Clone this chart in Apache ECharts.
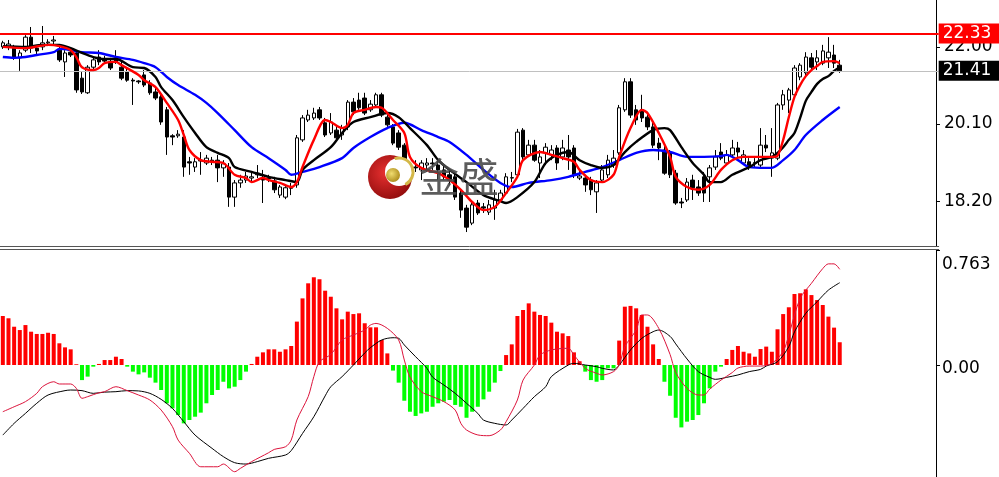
<!DOCTYPE html>
<html><head><meta charset="utf-8">
<script src="https://cdn.jsdelivr.net/npm/echarts@6.0.0/dist/echarts.min.js"></script>
<style>html,body{margin:0;padding:0;background:#fff}#c{width:999px;height:477px}</style>
</head><body><div id="c"></div>
<script>
// ---- price candles (one per bar) ----
const opens = [
22.00,22.00,21.97,21.73,21.92,22.24,21.97,22.00,22.10,22.145,
21.92,21.63,21.87,21.85,21.23,20.87,21.50,21.75,21.68,21.63,
21.68,21.50,21.38,21.18,21.16,21.31,21.11,20.89,20.77,20.45,
19.81,19.81,19.78,19.17,19.04,19.19,19.14,19.21,19.21,19.02,
19.04,18.30,18.65,18.72,18.77,18.85,18.77,18.77,18.70,18.35,
18.30,18.53,18.60,19.71,20.20,20.25,20.45,20.13,19.88,19.95,
19.83,20.03,20.64,20.69,20.74,20.45,20.57,20.82,20.27,20.03,
19.88,19.58,19.07,19.04,18.97,19.09,19.14,19.09,18.97,18.85,
18.80,18.40,18.03,17.66,18.155,18.06,17.93,18.03,18.23,18.40,
18.77,18.85,19.95,19.34,19.58,19.14,19.39,19.34,19.51,19.29,
19.46,19.51,18.77,18.77,18.72,18.43,18.72,18.85,19.09,19.39,
20.45,21.14,20.45,20.45,20.27,20.03,19.63,19.46,19.39,18.89,
18.18,18.23,18.72,18.55,18.80,18.80,19.04,19.41,19.14,19.34,
19.51,19.14,19.17,19.14,19.09,19.58,19.26,19.26,20.57,20.69,
20.82,21.26,21.36,21.73,21.63,21.60,21.73,21.80,21.55];
const closes = [
22.10,22.07,21.75,21.85,22.24,21.97,21.90,22.10,22.12,22.17,
21.68,21.85,21.80,20.94,20.89,21.50,21.68,21.63,21.65,21.48,
21.63,21.23,21.18,21.16,21.14,21.06,20.87,20.74,20.15,19.78,
19.78,19.85,19.04,19.14,19.17,19.21,19.26,19.17,19.02,19.12,
18.30,18.65,18.72,18.82,18.80,18.89,18.72,18.75,18.48,18.55,
18.53,18.52,19.76,20.25,20.32,20.37,20.25,19.83,20.15,19.76,
20.00,20.64,20.40,20.50,20.37,20.59,20.82,20.32,20.08,19.63,
19.53,19.04,19.04,19.02,19.14,19.14,19.12,18.97,18.80,18.72,
18.30,17.98,17.56,18.11,17.91,18.03,18.11,18.23,18.40,18.80,
18.78,19.90,19.29,19.58,19.21,19.29,19.53,19.46,19.14,19.51,
19.29,18.85,18.82,18.60,18.48,18.65,18.97,19.21,19.26,20.50,
21.14,20.32,20.20,20.25,20.03,19.58,19.51,18.89,18.85,18.155,
18.155,18.67,18.53,18.40,18.40,19.02,19.29,19.26,19.34,19.51,
19.41,19.34,19.04,19.15,19.58,19.51,19.39,20.57,20.82,20.94,
21.48,21.55,21.75,21.50,21.73,21.90,21.87,21.60,21.41];
const lows = [
21.95,21.92,21.68,21.41,21.87,21.85,21.82,21.92,22.02,22.07,
21.63,21.26,21.75,20.87,20.84,20.84,21.43,21.55,21.58,21.43,
21.58,21.18,21.14,20.57,21.09,21.01,20.82,20.69,20.08,19.34,
19.58,19.76,18.80,18.85,18.92,18.85,19.09,19.09,18.67,18.80,
18.06,18.06,18.53,18.65,18.67,18.77,18.155,18.67,18.40,18.28,
18.25,18.35,18.53,19.66,20.15,20.20,20.20,19.78,19.83,19.71,
19.71,19.95,20.32,20.45,20.32,20.40,20.52,20.27,20.03,19.58,
19.46,18.97,18.92,18.92,18.72,18.92,18.97,18.72,18.72,18.60,
18.23,17.79,17.44,17.61,17.86,17.91,17.86,17.74,18.18,18.35,
18.67,18.80,19.21,19.29,19.17,18.77,19.09,19.21,18.97,19.21,
18.97,18.77,18.72,18.43,18.35,17.91,18.67,18.77,19.02,19.34,
20.40,20.25,20.08,20.15,19.95,19.51,19.21,18.85,18.77,18.11,
18.03,18.18,18.23,18.33,18.18,18.18,18.97,19.21,19.09,19.26,
19.21,19.09,18.97,19.02,19.04,19.41,18.80,19.21,20.45,20.37,
20.74,21.18,21.28,21.43,21.43,21.55,21.48,21.48,21.36];
const highs = [
22.15,22.17,22.05,21.92,22.29,22.49,22.02,22.515,22.19,22.27,
22.05,21.92,21.92,21.92,21.38,21.55,21.75,21.92,21.78,21.73,
21.92,21.63,21.48,21.23,21.18,21.43,21.18,20.99,20.82,20.52,
19.85,19.95,19.95,19.29,19.26,19.41,19.34,19.29,19.34,19.21,
19.14,18.72,18.85,18.92,18.92,19.09,18.97,18.85,18.80,18.60,
18.57,18.65,19.83,20.32,20.45,20.50,20.52,20.25,20.37,20.03,
20.08,20.69,20.74,20.87,20.87,20.69,20.87,20.87,20.37,20.10,
19.95,19.63,19.14,19.21,19.21,19.26,19.26,19.21,19.09,18.97,
18.92,18.48,18.11,18.18,18.23,18.155,18.23,18.48,18.48,18.89,
18.92,19.98,20.00,19.71,19.71,19.46,19.63,19.58,19.58,19.71,
19.83,19.58,18.97,18.85,18.80,18.72,19.09,19.34,19.46,20.57,
21.23,21.23,20.57,20.82,20.40,20.13,19.76,19.58,19.46,18.97,
18.28,18.77,18.85,18.72,18.92,19.09,19.46,19.63,19.46,19.71,
19.66,19.46,19.26,19.26,20.00,19.83,20.00,20.62,20.94,20.99,
21.55,21.60,21.87,21.85,21.92,22.05,22.24,22.05,21.68];

// ---- moving averages: [bar index, price] ----
const maFast = [[0,22.00],[4,21.97],[8,22.05],[10,22.02],[12,21.92],[13,21.75],[14,21.50],[16,21.43],[17,21.48],[18,21.60],[20,21.63],[21,21.55],[24,21.31],[25,21.18],[27,21.01],[29,20.62],[31,20.20],[32,19.83],[33,19.46],[35,19.21],[37,19.17],[39,19.14],[41,18.85],[43,18.77],[44,18.67],[46,18.77],[47,18.72],[49,18.65],[51,18.55],[52,18.67],[53,19.04],[55,19.71],[57,20.20],[58,20.15],[60,20.00],[61,20.08],[62,20.37],[64,20.45],[66,20.52],[67,20.50],[69,20.20],[71,19.88],[72,19.29],[74,19.02],[77,18.89],[79,18.72],[81,18.48],[83,18.18],[85,17.98],[87,18.06],[89,18.40],[91,18.80],[92,19.21],[95,19.41],[97,19.34],[99,19.26],[101,19.17],[102,18.97],[104,18.72],[106,18.67],[108,18.85],[109,19.29],[111,20.00],[113,20.45],[114,20.37],[116,19.88],[118,19.29],[119,18.80],[121,18.55],[123,18.48],[125,18.60],[127,18.97],[129,19.21],[131,19.29],[134,19.29],[136,19.29],[137,19.32],[138,19.71],[139,20.27],[140,20.77],[141,21.06],[142,21.28],[143,21.43],[144,21.53],[145,21.63],[147,21.65],[148,21.60]];
const maMid = [[0,22.02],[4,22.00],[7,22.05],[10,22.05],[12,21.97],[14,21.85],[16,21.75],[18,21.70],[20,21.70],[23,21.50],[25,21.48],[27,21.26],[28,21.01],[30,20.69],[32,20.27],[34,19.88],[36,19.53],[38,19.39],[40,19.26],[41,19.04],[44,18.92],[47,18.80],[50,18.72],[52,18.67],[53,18.97],[55,19.21],[58,19.53],[60,19.88],[62,20.15],[65,20.27],[68,20.37],[70,20.27],[72,20.00],[75,19.58],[77,19.21],[79,18.97],[82,18.67],[85,18.35],[88,18.20],[89,18.155],[91,18.30],[94,18.67],[96,19.14],[98,19.34],[100,19.41],[102,19.21],[104,19.09],[106,19.02],[108,19.09],[110,19.41],[112,19.66],[115,19.95],[117,20.00],[118,19.95],[120,19.53],[122,19.14],[124,18.85],[125,18.67],[127,18.67],[129,18.85],[132,19.04],[134,19.21],[136,19.29],[137,19.39],[138,19.53],[139,19.71],[140,19.88],[141,20.25],[142,20.67],[143,20.89],[144,21.09],[145,21.21],[146,21.28],[147,21.41],[148,21.50]];
const maSlow = [[0,21.75],[2,21.73],[4,21.75],[6,21.80],[9,21.87],[10,21.95],[12,21.92],[14,21.87],[17,21.85],[20,21.75],[23,21.68],[25,21.60],[27,21.50],[29,21.26],[31,21.06],[34,20.82],[36,20.62],[38,20.37],[41,19.95],[44,19.53],[47,19.26],[50,18.97],[51,18.85],[53,18.92],[56,19.04],[60,19.26],[62,19.51],[65,19.78],[68,20.00],[71,20.13],[74,19.95],[77,19.78],[79,19.66],[82,19.34],[85,18.97],[88,18.65],[90,18.55],[93,18.65],[97,18.72],[100,18.80],[103,18.92],[106,19.04],[109,19.21],[112,19.39],[115,19.46],[118,19.41],[121,19.29],[124,19.29],[127,19.31],[128,19.34],[130,19.21],[132,19.04],[135,19.02],[136,19.02],[138,19.21],[140,19.46],[142,19.83],[145,20.20],[148,20.52]];

// ---- MACD panel ----
const macdHist = [
0.325,0.310,0.254,0.232,0.265,0.221,0.206,0.206,0.214,0.206,
0.144,0.117,0.104,0.005,-0.100,-0.077,-0.011,0.007,0.033,0.033,
0.055,0.040,-0.011,-0.044,-0.062,-0.049,-0.084,-0.117,-0.166,-0.254,
-0.288,-0.332,-0.387,-0.365,-0.343,-0.316,-0.254,-0.199,-0.166,-0.111,
-0.155,-0.144,-0.100,-0.044,0.007,0.055,0.084,0.104,0.104,0.088,
0.104,0.126,0.288,0.442,0.542,0.582,0.569,0.493,0.453,0.376,
0.303,0.354,0.338,0.343,0.277,0.250,0.250,0.166,0.077,-0.037,
-0.117,-0.237,-0.310,-0.338,-0.321,-0.310,-0.277,-0.254,-0.243,-0.232,
-0.265,-0.277,-0.350,-0.310,-0.277,-0.228,-0.177,-0.117,-0.040,0.066,
0.137,0.325,0.365,0.409,0.354,0.332,0.325,0.281,0.221,0.210,
0.192,0.084,0.025,-0.044,-0.100,-0.111,-0.100,-0.022,-0.022,0.162,
0.387,0.392,0.376,0.332,0.254,0.137,0.040,-0.111,-0.204,-0.350,
-0.414,-0.376,-0.365,-0.332,-0.254,-0.155,-0.044,-0.011,0.040,0.100,
0.126,0.088,0.077,0.055,0.106,0.122,0.088,0.237,0.338,0.383,
0.471,0.476,0.502,0.464,0.431,0.398,0.321,0.248,0.151];
const macdBlack = [[0,-0.465],[2,-0.387],[4,-0.321],[6,-0.254],[8,-0.199],[11,-0.170],[12,-0.166],[14,-0.170],[16,-0.188],[18,-0.180],[20,-0.177],[22,-0.170],[24,-0.172],[26,-0.188],[28,-0.228],[30,-0.288],[32,-0.376],[34,-0.465],[37,-0.553],[39,-0.608],[41,-0.648],[43,-0.657],[45,-0.641],[47,-0.619],[50,-0.597],[51,-0.568],[53,-0.454],[55,-0.343],[57,-0.205],[58,-0.144],[60,-0.077],[62,0],[64,0.08],[65,0.115],[67,0.166],[69,0.181],[70,0.177],[71,0.133],[73,0.055],[75,-0.022],[76,-0.08],[78,-0.133],[80,-0.188],[82,-0.254],[84,-0.321],[85,-0.365],[87,-0.387],[89,-0.398],[90,-0.365],[92,-0.288],[94,-0.210],[96,-0.144],[97,-0.077],[100,0],[101,0.011],[103,0],[105,-0.011],[106,-0.022],[108,-0.033],[109,0],[111,0.100],[113,0.177],[115,0.221],[116,0.232],[118,0.19],[119,0.14],[121,0.04],[123,-0.044],[125,-0.082],[126,-0.095],[128,-0.082],[130,-0.066],[132,-0.044],[134,-0.029],[135,-0.007],[137,0.022],[139,0.122],[140,0.22],[142,0.343],[144,0.420],[146,0.497],[148,0.546]];
const macdRed = [[0,-0.310],[2,-0.277],[4,-0.243],[6,-0.188],[7,-0.144],[9,-0.111],[10,-0.126],[12,-0.126],[13,-0.155],[14,-0.221],[15,-0.210],[17,-0.184],[18,-0.177],[20,-0.144],[22,-0.170],[24,-0.199],[26,-0.232],[28,-0.299],[30,-0.409],[31,-0.498],[33,-0.586],[35,-0.675],[38,-0.675],[39,-0.657],[41,-0.708],[42,-0.686],[44,-0.641],[47,-0.582],[48,-0.560],[50,-0.542],[51,-0.498],[52,-0.365],[54,-0.210],[55,-0.077],[56,0.022],[58,0.07],[60,0.166],[62,0.199],[64,0.232],[65,0.265],[66,0.276],[68,0.243],[70,0.166],[71,0.033],[72,-0.08],[74,-0.177],[76,-0.210],[78,-0.243],[80,-0.299],[81,-0.387],[82,-0.431],[84,-0.464],[86,-0.469],[88,-0.431],[89,-0.376],[91,-0.232],[92,-0.100],[94,0],[95,0.066],[97,0.100],[100,0.111],[101,0.066],[103,-0.022],[105,-0.055],[106,-0.066],[108,-0.044],[109,0],[110,0.122],[112,0.232],[113,0.332],[114,0.332],[116,0.243],[118,0.07],[119,-0.05],[121,-0.155],[123,-0.199],[124,-0.199],[125,-0.16],[127,-0.100],[129,-0.05],[130,-0.02],[132,-0.007],[134,-0.007],[136,0.011],[138,0.09],[139,0.2],[141,0.442],[143,0.542],[145,0.64],[146,0.671],[147,0.671],[148,0.635]];

// ---- axes / reference levels ----
const priceTicks = [18.20, 20.10, 22.00];
const macdTicks = [0, 0.763];
const resistanceLevel = 22.33;
const lastPrice = 21.41;
const slotCount = 166;

const categories = Array.from({length: slotCount}, (_, i) => String(i));
const candles = opens.map((o, i) => [o, closes[i], lows[i], highs[i]]);

const FONT = 'DejaVu Sans';
const chart = echarts.init(document.getElementById('c'));
chart.setOption({
  animation: false,
  backgroundColor: '#ffffff',
  grid: [
    {left: -4.52, width: 943.2, top: 0, height: 246},
    {left: -4.52, width: 943.2, top: 250, bottom: 0}
  ],
  xAxis: [
    {type: 'category', gridIndex: 0, data: categories, boundaryGap: true,
     axisLine: {show: true, onZero: false, lineStyle: {color: '#555', width: 1}},
     axisTick: {show: false}, axisLabel: {show: false}, splitLine: {show: false}},
    {type: 'category', gridIndex: 1, data: categories, boundaryGap: true, position: 'top', offset: 1,
     axisLine: {show: true, onZero: false, lineStyle: {color: '#555', width: 1}},
     axisTick: {show: false}, axisLabel: {show: false}, splitLine: {show: false}}
  ],
  yAxis: [
    {type: 'value', gridIndex: 0, position: 'right', offset: -2.7, min: 17.096, max: 23.155,
     splitLine: {show: false},
     axisLine: {show: true, lineStyle: {color: '#000', width: 1}},
     axisTick: {show: true, customValues: priceTicks, length: 4, lineStyle: {color: '#000'}},
     axisLabel: {customValues: priceTicks, formatter: v => v.toFixed(2), color: '#000',
       fontSize: 17, fontFamily: FONT, margin: 8, padding: [10, 0, 0, 0]}},
    {type: 'value', gridIndex: 1, position: 'right', offset: -2.7, min: -0.743, max: 0.763,
     splitLine: {show: false},
     axisLine: {show: true, lineStyle: {color: '#000', width: 1}},
     axisTick: {show: true, customValues: macdTicks, length: 4, lineStyle: {color: '#000'}},
     axisLabel: {customValues: macdTicks, color: '#000', fontSize: 17, fontFamily: FONT, margin: 6,
       padding: [8, 0, 0, 0],
       formatter: v => v === 0 ? '0.00' : '{t|' + v.toFixed(3) + '}',
       rich: {t: {padding: [22, 0, 0, 0], fontSize: 17, fontFamily: FONT, color: '#000'}}}}
  ],
  series: [
    {type: 'candlestick', xAxisIndex: 0, yAxisIndex: 0, data: candles, barWidth: 4,
     itemStyle: {color: '#ffffff', color0: '#000000', borderColor: '#000000', borderColor0: '#000000', borderWidth: 1},
     markLine: {symbol: ['none', 'none'], silent: true, animation: false,
       data: [
         {yAxis: resistanceLevel, lineStyle: {color: '#ff0000', width: 2, type: 'solid'},
          label: {show: true, position: 'end', distance: 0, formatter: resistanceLevel.toFixed(2),
            color: '#fff', backgroundColor: '#ff0000', padding: [2, 8, 1, 4], fontSize: 17, fontFamily: FONT}},
         {yAxis: lastPrice, lineStyle: {color: '#c0c0c0', width: 1, type: 'solid'},
          label: {show: true, position: 'end', distance: 0, formatter: lastPrice.toFixed(2),
            color: '#fff', backgroundColor: '#000000', padding: [2, 8, 1, 4], fontSize: 17, fontFamily: FONT}}
       ]}},
    {type: 'line', xAxisIndex: 0, yAxisIndex: 0, data: maSlow, symbol: 'none', smooth: 0.3, z: 3,
     lineStyle: {color: '#0000ff', width: 2.4}},
    {type: 'line', xAxisIndex: 0, yAxisIndex: 0, data: maMid, symbol: 'none', smooth: 0.3, z: 4,
     lineStyle: {color: '#000000', width: 2.4}},
    {type: 'line', xAxisIndex: 0, yAxisIndex: 0, data: maFast, symbol: 'none', smooth: 0.3, z: 5,
     lineStyle: {color: '#ff0000', width: 2.4}},
    {type: 'bar', xAxisIndex: 1, yAxisIndex: 1, data: macdHist, barWidth: 4,
     itemStyle: {color: p => p.value >= 0 ? '#ff0000' : '#00ff00'}},
    {type: 'line', xAxisIndex: 1, yAxisIndex: 1, data: macdBlack, symbol: 'none', smooth: 0.3, z: 4,
     lineStyle: {color: '#000000', width: 1}},
    {type: 'line', xAxisIndex: 1, yAxisIndex: 1, data: macdRed, symbol: 'none', smooth: 0.3, z: 5,
     lineStyle: {color: '#dc143c', width: 1}}
  ],
  graphic: [
    {type: 'circle', z: 100, shape: {cx: 390, cy: 177, r: 22},
     style: {fill: new echarts.graphic.RadialGradient(0.4, 0.4, 0.7, [{offset: 0, color: '#e83030'}, {offset: 1, color: '#8a0a0a'}])}},
    {type: 'circle', z: 101, shape: {cx: 399, cy: 172, r: 14}, style: {fill: '#ffffff'}},
    {type: 'arc', z: 102, shape: {cx: 399, cy: 172, r: 14, startAngle: -Math.PI * 0.6, endAngle: Math.PI * 0.35},
     style: {stroke: '#d4b848', lineWidth: 3, fill: null}},
    {type: 'circle', z: 103, shape: {cx: 393, cy: 175, r: 7},
     style: {fill: new echarts.graphic.RadialGradient(0.4, 0.4, 0.6, [{offset: 0, color: '#f0dc70'}, {offset: 1, color: '#b09020'}])}},
    {type: 'text', z: 104, x: 419, y: 157,
     style: {text: '金盛', font: '40px "Noto Sans CJK SC"', fill: '#4a4a4a', opacity: 0.9}}
  ]
});
</script>
</body></html>
